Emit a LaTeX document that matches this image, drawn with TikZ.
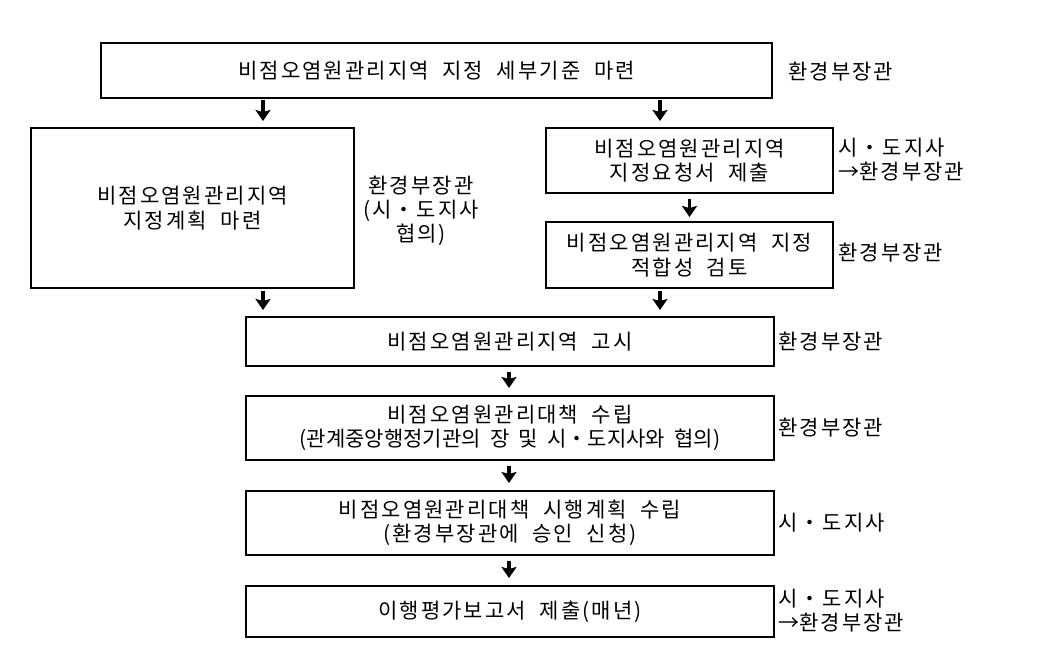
\documentclass[tikz,border=0pt]{standalone}
\usepackage{fontspec}
\setmainfont{Noto Sans CJK KR}[LetterSpace=10,WordSpace=2]
\usetikzlibrary{arrows.meta}

\tikzset{
  stepbox/.style={rectangle,draw=black,line width=1.3pt,inner sep=0pt,outer sep=0pt,
    align=center,font=\fontsize{21}{24.5}\selectfont},
  who/.style={anchor=west,align=left,inner sep=0pt,font=\fontsize{21}{24}\selectfont},
  arr/.style={line width=3.5pt,-{Stealth[width=15pt,length=11pt,inset=2pt]},shorten <=2pt,shorten >=7pt}
}
\newcommand{\tight}{\addfontfeature{LetterSpace=0}}

\begin{document}
\begin{tikzpicture}[x=1pt,y=-1pt]
\useasboundingbox (0,0) rectangle (1039,655);
% Columns for the arrows
\coordinate (ColL) at (263,0);
\coordinate (ColR) at (660,0);
\coordinate (ColM) at (509,0);
% Steps
\node at (436.5,70.5) [stepbox,minimum width=671,minimum height=55] (Box1) {비점오염원관리지역 지정 세부기준 마련};
\node at (192.5,208) [stepbox,minimum width=323,minimum height=160] (Box2) {비점오염원관리지역\\지정계획 마련};
\node at (689.5,160.5) [stepbox,minimum width=287,minimum height=65] (Box3) {비점오염원관리지역\\지정요청서 제출};
\node at (689.5,255) [stepbox,minimum width=287,minimum height=66] (Box4) {비점오염원관리지역 지정\\적합성 검토};
\node at (510,341.5) [stepbox,minimum width=528,minimum height=49] (Box5) {비점오염원관리지역 고시};
\node at (510,428) [stepbox,minimum width=528,minimum height=64] (Box6) {비점오염원관리대책 수립\\{\tight(관계중앙행정기관의 장 및 시・도지사와 협의)}};
\node at (510,523) [stepbox,minimum width=528,minimum height=64] (Box7) {비점오염원관리대책 시행계획 수립\\(환경부장관에 승인 신청)};
\node at (510,611.5) [stepbox,minimum width=528,minimum height=51] (Box8) {이행평가보고서 제출(매년)};
% Who does it
\node at (788,72) [who] (Who1) {환경부장관};
\node at (421,211) [who,anchor=center,align=center] (Who2) {환경부장관\\(시・도지사\\협의)};
\node at (838,160) [who] (Who3) {시・도지사\\{\tight→}환경부장관};
\node at (838,253) [who] (Who4) {환경부장관};
\node at (778,342) [who] (Who5) {환경부장관};
\node at (778,428) [who] (Who6) {환경부장관};
\node at (778,523) [who] (Who7) {시・도지사};
\node at (778,611) [who] (Who8) {시・도지사\\{\tight→}환경부장관};
% Arrows
\draw [arr] (Box1.south -| ColL) -- (Box2.north -| ColL);
\draw [arr] (Box1.south -| ColR) -- (Box3.north -| ColR);
\draw [arr,shorten <=6pt,shorten >=5pt] (Box3) -- (Box4);
\draw [arr,shorten <=3pt] (Box2.south -| ColL) -- (Box5.north -| ColL);
\draw [arr,shorten <=3pt] (Box4.south -| ColR) -- (Box5.north -| ColR);
\draw [arr,shorten <=6pt,shorten >=8pt] (Box5.south -| ColM) -- (Box6.north -| ColM);
\draw [arr,shorten <=6pt,shorten >=8pt] (Box6.south -| ColM) -- (Box7.north -| ColM);
\draw [arr,shorten <=6pt,shorten >=8pt] (Box7.south -| ColM) -- (Box8.north -| ColM);
\end{tikzpicture}
\end{document}
